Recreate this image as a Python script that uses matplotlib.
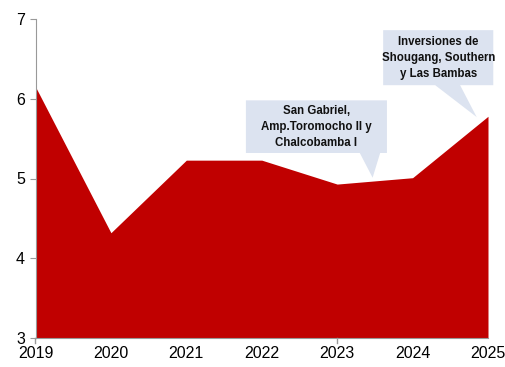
import matplotlib
matplotlib.use('Agg')
import matplotlib.pyplot as plt
from matplotlib.patches import Polygon

plt.rcParams['font.family'] = ['Liberation Sans', 'DejaVu Sans']

# Serie anual
anios = [2019, 2020, 2021, 2022, 2023, 2024, 2025]
valores = [6.15, 4.32, 5.23, 5.23, 4.93, 5.01, 5.78]

nota_1 = "San Gabriel,\nAmp.Toromocho II y\nChalcobamba I"
nota_2 = "Inversiones de\nShougang, Southern\ny Las Bambas"

fig = plt.figure(figsize=(5.05, 3.67), dpi=100)
ax = fig.add_axes([35.5 / 505, 29 / 367, 452.5 / 505, 319 / 367])

ax.fill_between(anios, valores, 3, color="#C00000", linewidth=0)
ax.set_xlim(2019, 2025)
ax.set_ylim(3, 7)
ax.set_yticks([3, 4, 5, 6, 7])
ax.set_xticks(anios)
ax.tick_params(axis="both", labelsize=11.5, color="#999999", length=4)
ax.tick_params(axis="x", length=0, pad=6)
for yr in [2019, 2023]:
    ax.plot([yr, yr], [3, 2.94], color="#999999", lw=1, clip_on=False)

for s in ["top", "right"]:
    ax.spines[s].set_visible(False)
for s in ["left", "bottom"]:
    ax.spines[s].set_color("#999999")

caja = "#DCE3F0"

def globo(x0, x1, y0, y1, b0, b1, tip, texto):
    pts = [(x0, y0), (x1, y0), (x1, y1), (b1, y1), tip, (b0, y1), (x0, y1)]
    ax.add_patch(Polygon(pts, closed=True, facecolor=caja, edgecolor="none",
                         clip_on=False, zorder=3))
    ax.text((x0 + x1) / 2, (y0 + y1) / 2, texto, ha="center", va="center",
            fontsize=8.3, fontweight="bold", color="#111111", zorder=4,
            linespacing=1.45)

globo(2021.79, 2023.66, 5.98, 5.32, 2023.30, 2023.57, (2023.47, 5.01), nota_1)
globo(2023.61, 2025.07, 6.86, 6.17, 2024.30, 2024.63, (2024.85, 5.77), nota_2)

fig.savefig("out.png", dpi=100)
